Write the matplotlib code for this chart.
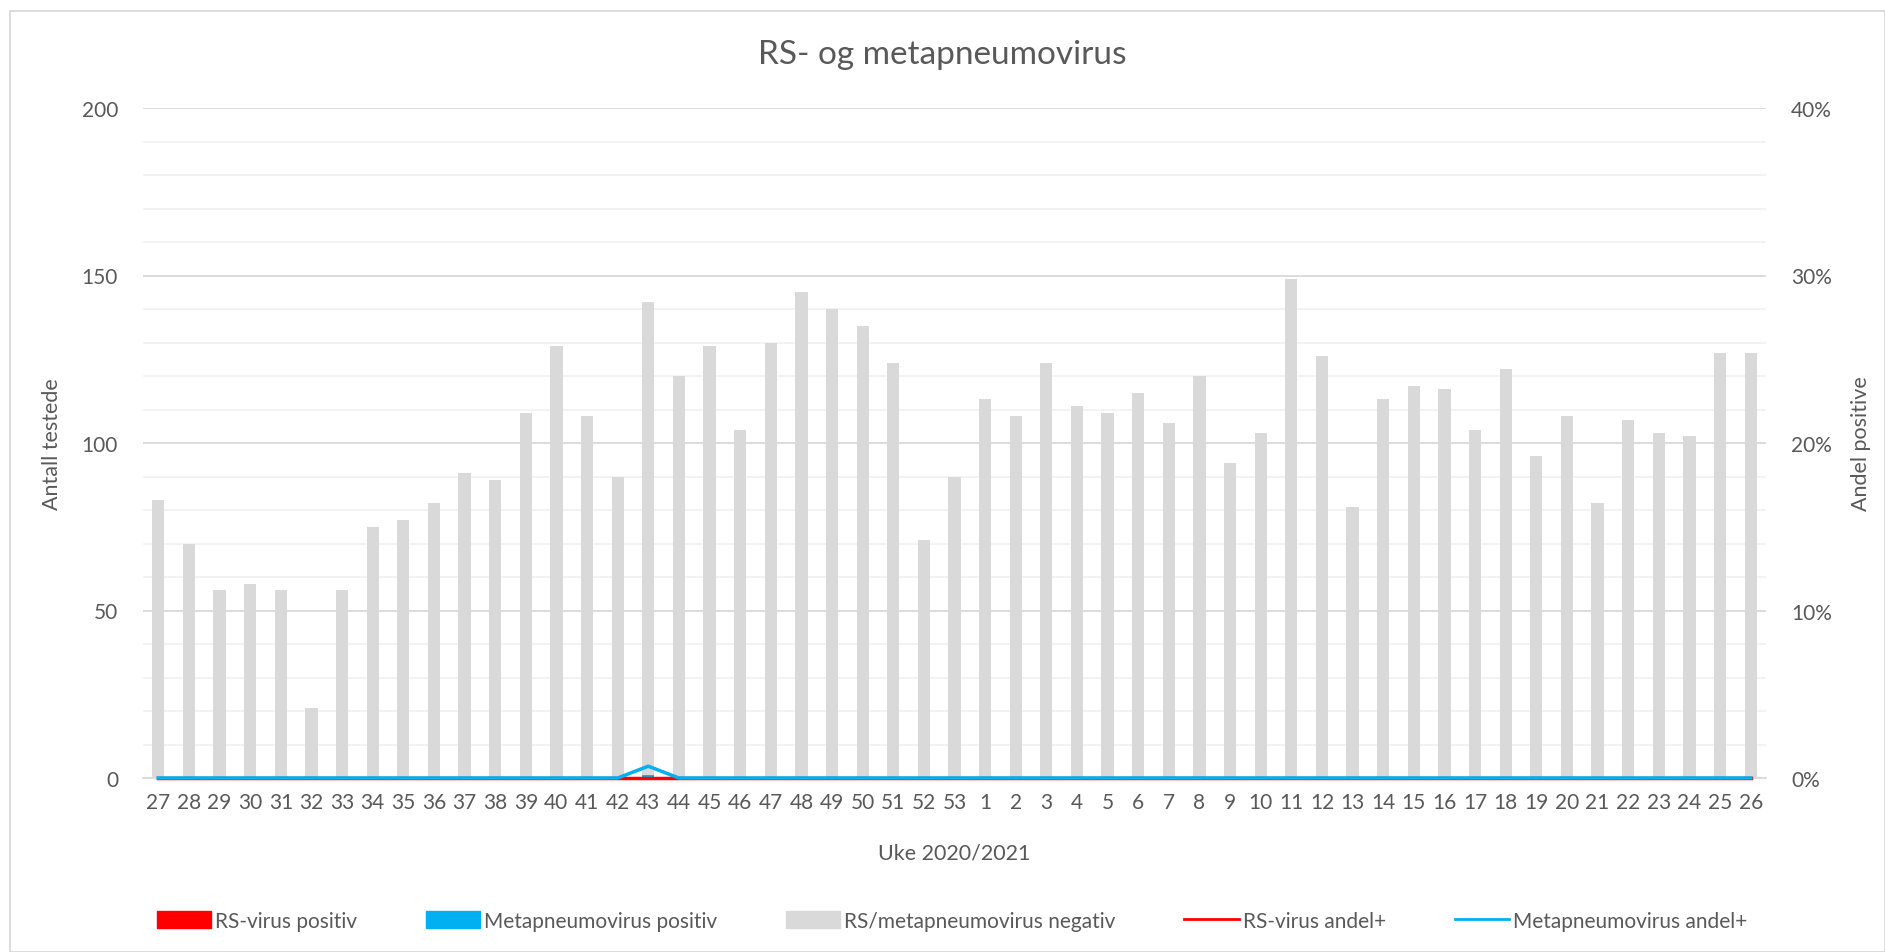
import matplotlib
matplotlib.use("Agg")
from matplotlib import pyplot as plt
from matplotlib.patches import Patch, Rectangle
from matplotlib.lines import Line2D
from matplotlib.ticker import FuncFormatter, MultipleLocator

plt.rcParams['font.family'] = ['Lato', 'DejaVu Sans']

weeks = [27, 28, 29, 30, 31, 32, 33, 34, 35, 36, 37, 38, 39, 40, 41, 42, 43, 44, 45, 46,
         47, 48, 49, 50, 51, 52, 53, 1, 2, 3, 4, 5, 6, 7, 8, 9, 10, 11, 12, 13,
         14, 15, 16, 17, 18, 19, 20, 21, 22, 23, 24, 25, 26]
negativ = [83, 70, 56, 58, 56, 21, 56, 75, 77, 82, 91, 89, 109, 129, 108, 90, 141, 120, 129, 104,
           130, 145, 140, 135, 124, 71, 90, 113, 108, 124, 111, 109, 115, 106, 120, 94, 103, 149, 126, 81,
           113, 117, 116, 104, 122, 96, 108, 82, 107, 103, 102, 127, 127]
rs_pos = [0] * len(weeks)
meta_pos = [0] * len(weeks)
meta_pos[weeks.index(43)] = 1

totals = [a + b + c for a, b, c in zip(rs_pos, meta_pos, negativ)]
rs_andel = [a / t for a, t in zip(rs_pos, totals)]
meta_andel = [b / t for b, t in zip(meta_pos, totals)]

RED = '#FF0000'
BLUE = '#00B0F0'
GREY = '#D9D9D9'
TXT = '#595959'

fig = plt.figure(figsize=(18.85, 9.53), dpi=100)
ax = fig.add_axes([143 / 1885, 1 - 779 / 953, (1766 - 143) / 1885, (779 - 109) / 953])
x = list(range(len(weeks)))
w = 0.4
ax.bar(x, rs_pos, w, color=RED, zorder=2)
ax.bar(x, meta_pos, w, bottom=rs_pos, color=BLUE, zorder=2)
ax.bar(x, negativ, w, bottom=[a + b for a, b in zip(rs_pos, meta_pos)], color=GREY, zorder=2)

ax.set_xlim(-0.5, len(weeks) - 0.5)
ax.set_ylim(0, 200)
ax.yaxis.set_major_locator(MultipleLocator(50))
ax.yaxis.set_minor_locator(MultipleLocator(10))
ax.grid(axis='y', which='major', color='#D9D9D9', lw=1.3, zorder=0)
ax.grid(axis='y', which='minor', color='#F2F2F2', lw=1.3, zorder=0)
ax.set_xticks(x)
ax.set_xticklabels([str(wk) for wk in weeks])
ax.tick_params(axis='both', which='both', length=0, labelsize=15, colors=TXT)
ax.tick_params(axis='x', pad=10)
ax.tick_params(axis='y', pad=18)
for s in ['top', 'left', 'right']:
    ax.spines[s].set_visible(False)
ax.spines['bottom'].set_color(GREY)
ax.spines['bottom'].set_linewidth(1.3)
ax.set_ylabel('Antall testede', fontsize=15.5, color=TXT, labelpad=14)
ax.set_xlabel('Uke 2020/2021', fontsize=15.5, color=TXT, labelpad=22)

ax2 = ax.twinx()
ax2.plot(x, rs_andel, color=RED, lw=2.5, zorder=3, clip_on=False)
ax2.plot(x, meta_andel, color=BLUE, lw=2.5, zorder=4, clip_on=False)
ax2.set_ylim(0, 0.4)
ax2.yaxis.set_major_locator(MultipleLocator(0.1))
ax2.yaxis.set_major_formatter(FuncFormatter(lambda v, p: f'{v * 100:.0f}%'))
ax2.tick_params(axis='y', length=0, labelsize=15, colors=TXT, pad=18)
for s in ['top', 'left', 'right', 'bottom']:
    ax2.spines[s].set_visible(False)
ax2.set_ylabel('Andel positive', fontsize=15.5, color=TXT, labelpad=14)

fig.text(0.5, 1 - 55 / 953, 'RS- og metapneumovirus', ha='center', va='center',
         fontsize=24, color=TXT)

handles = [Patch(color=RED), Patch(color=BLUE), Patch(color=GREY),
           Line2D([], [], color=RED, lw=2), Line2D([], [], color=BLUE, lw=2)]
labels = ['RS-virus positiv', 'Metapneumovirus positiv', 'RS/metapneumovirus negativ',
          'RS-virus andel+', 'Metapneumovirus andel+']
fig.legend(handles, labels, loc='center', bbox_to_anchor=(0.505, 1 - 922 / 953), ncol=5,
           frameon=False, fontsize=15, labelcolor=TXT, columnspacing=3.3,
           handlelength=2.6, handleheight=0.9, handletextpad=0.2)

fig.patches.append(Rectangle((10 / 1885, 0), 1 - 10 / 1885, 1 - 12 / 953,
                             transform=fig.transFigure, fill=False,
                             edgecolor='#D9D9D9', lw=1.3))

fig.savefig('out.png', dpi=100)
